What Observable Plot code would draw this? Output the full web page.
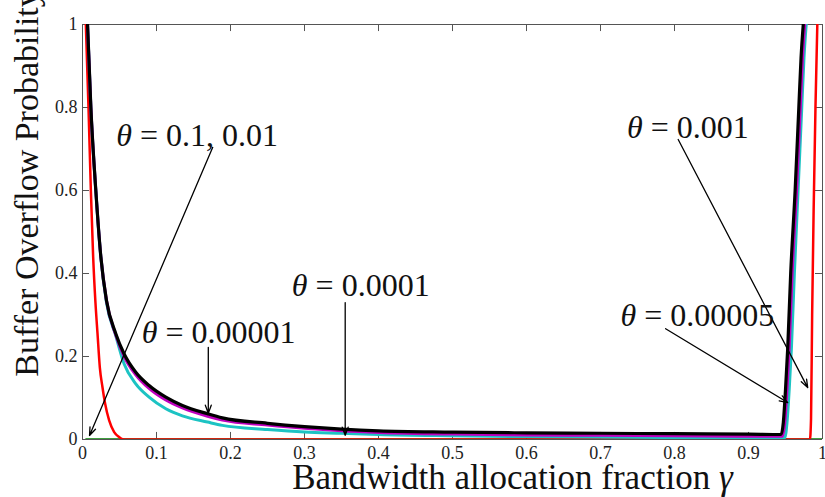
<!DOCTYPE html>
<html><head><meta charset="utf-8">
<script src="https://cdn.jsdelivr.net/npm/d3@7"></script>
<script src="https://cdn.jsdelivr.net/npm/@observablehq/plot@0.6"></script>
<style>body{margin:0;background:#fff}</style>
</head><body><div id="chart"></div>
<script>
// ---- data ----
const xTicks = [0,0.1,0.2,0.3,0.4,0.5,0.6,0.7,0.8,0.9,1];
const yTicks = [0,0.2,0.4,0.6,0.8,1];

const greenGamma = [0.005, 1];
const greenProb  = [0, 0];

const redGamma = [0.0045,0.0081,0.0113,0.0144,0.0175,0.0203,0.0234,0.027,0.0306,0.036,0.0428,0.0495,0.054,0.058,0.5,0.983,0.9845,0.986,0.988,0.9905,0.993];
const redProb  = [1,0.8,0.6,0.44,0.33,0.255,0.174,0.126,0.086,0.046,0.018,0.006,0.001,0,0,0,0.05,0.3,0.55,0.8,1];

const cyanGamma = [0.0068,0.0113,0.018,0.0248,0.0324,0.045,0.0563,0.072,0.09,0.1126,0.135,0.169,0.189,0.25,0.3,0.35,0.4,0.5,0.6,0.7,0.8,0.9,0.949,0.952,0.955,0.958,0.962,0.967,0.972,0.975,0.978];
const cyanProb  = [1,0.8,0.6,0.44,0.33,0.25,0.182,0.134,0.102,0.074,0.057,0.042,0.034,0.024,0.018,0.015,0.012,0.009,0.007,0.006,0.005,0.005,0.004,0.04,0.12,0.22,0.4,0.6,0.8,0.92,1];

const magentaGamma = [0.0068,0.0113,0.018,0.0248,0.0324,0.045,0.0563,0.072,0.09,0.1126,0.135,0.169,0.189,0.25,0.3,0.35,0.4,0.5,0.6,0.7,0.8,0.9,0.946,0.949,0.952,0.955,0.959,0.965,0.97,0.973,0.976];
const magentaProb  = [1,0.8,0.6,0.44,0.335,0.252,0.2,0.156,0.123,0.095,0.076,0.056,0.047,0.035,0.027,0.021,0.017,0.013,0.011,0.01,0.009,0.008,0.008,0.04,0.12,0.22,0.4,0.6,0.8,0.92,1];

const blackGamma = [0.0068,0.0113,0.018,0.0248,0.0324,0.045,0.0563,0.072,0.09,0.1126,0.135,0.169,0.189,0.25,0.3,0.35,0.4,0.5,0.6,0.7,0.8,0.9,0.944,0.947,0.95,0.953,0.957,0.963,0.968,0.971,0.974];
const blackProb  = [1,0.8,0.6,0.44,0.335,0.255,0.206,0.162,0.13,0.102,0.082,0.062,0.052,0.039,0.031,0.025,0.021,0.018,0.016,0.015,0.014,0.013,0.012,0.04,0.12,0.22,0.4,0.6,0.8,0.92,1];

const seriesNames  = ["green","red","cyan","magenta","black"];
const seriesColors = ["#007f00","#ff0000","#1cc3c3","#bf00bf","#000000"];
const seriesWidths = [2.5,2.5,3,3,3.2];

const annoText = ["0.1, 0.01","0.00001","0.0001","0.001","0.00005"];
const annoX    = [0.155,0.184,0.376,0.818,0.831];
const annoY    = [0.733,0.258,0.371,0.752,0.299];
const arrowX1  = [0.176,0.170,0.355,0.805,0.788];
const arrowY1  = [0.704,0.222,0.330,0.723,0.267];
const arrowX2  = [0.0095,0.170,0.355,0.980,0.953];
const arrowY2  = [0.0096,0.063,0.010,0.125,0.089];

const xTitle = "Bandwidth allocation fraction γ";
const yTitle = "Buffer Overflow Probability";

// ---- build tables ----
const gammas = [greenGamma, redGamma, cyanGamma, magentaGamma, blackGamma];
const probs  = [greenProb, redProb, cyanProb, magentaProb, blackProb];
const lines = seriesNames.map((name, i) => gammas[i].map((g, j) => ({series: name, gamma: g, p: probs[i][j]})));
const annos = annoText.map((t, i) => ({t, x: annoX[i], y: annoY[i], x1: arrowX1[i], y1: arrowY1[i], x2: arrowX2[i], y2: arrowY2[i]}));
const fmt = d => String(+d.toFixed(1));
const font = "Liberation Serif, serif";

const marks = [
  Plot.ruleY([0, 1], {stroke: "#555", strokeWidth: 1}),
  Plot.ruleX([0, 1], {stroke: "#555", strokeWidth: 1}),
  Plot.ruleX(xTicks, {x: d => d, y1: 0, y2: 0.017, stroke: "#555"}),
  Plot.ruleX(xTicks, {x: d => d, y1: 1, y2: 0.983, stroke: "#555"}),
  Plot.ruleY(yTicks, {y: d => d, x1: 0, x2: 0.0095, stroke: "#555"}),
  Plot.ruleY(yTicks, {y: d => d, x1: 1, x2: 0.9905, stroke: "#555"}),
  Plot.axisX({ticks: xTicks, tickSize: 0, tickPadding: 7, tickFormat: fmt, label: null, fontSize: 18, fontFamily: font, fill: "#222"}),
  Plot.axisY({ticks: yTicks, tickSize: 0, tickPadding: 5, tickFormat: fmt, label: null, fontSize: 18, fontFamily: font, fill: "#222"}),
];
lines.forEach((data, i) => {
  marks.push(Plot.line(data, {x: "gamma", y: "p", stroke: seriesColors[i], strokeWidth: seriesWidths[i], curve: "monotone-x", clip: true}));
});
marks.push(
  Plot.arrow(annos, {x1: "x1", y1: "y1", x2: "x2", y2: "y2", stroke: "black", strokeWidth: 1.3, headLength: 10, headAngle: 40}),
  Plot.text(annos, {x: "x", y: "y", text: d => "θ = " + d.t, fontSize: 32, fontFamily: font, fill: "#111"}),
  Plot.text([xTitle], {x: () => 0.581, y: () => 0, dy: 38, text: d => d, fontSize: 35, fontFamily: font, fill: "#111", textAnchor: "middle", lineAnchor: "middle"}),
  Plot.text([yTitle], {x: () => 0, y: () => 0.617, dx: -55, rotate: -90, text: d => d, fontSize: 34, fontFamily: font, fill: "#111", textAnchor: "middle", lineAnchor: "middle"})
);

const chart = Plot.plot({
  width: 825, height: 497,
  marginLeft: 82, marginRight: 3, marginTop: 24, marginBottom: 58,
  x: {domain: [0, 1]},
  y: {domain: [0, 1]},
  style: {background: "#fff", overflow: "visible"},
  marks
});
document.getElementById("chart").appendChild(chart);

// italicise the Greek letters
d3.select(chart).selectAll("text").each(function() {
  const el = d3.select(this);
  if (el.selectAll("tspan").size() > 0) return;
  const s = el.text();
  const m = s.match(/[θγ]/);
  if (!m) return;
  const idx = s.indexOf(m[0]);
  el.text(null);
  if (idx > 0) el.append("tspan").text(s.slice(0, idx));
  el.append("tspan").attr("font-style", "italic").text(m[0]);
  if (idx + 1 < s.length) el.append("tspan").text(s.slice(idx + 1));
});
</script>
</body></html>
